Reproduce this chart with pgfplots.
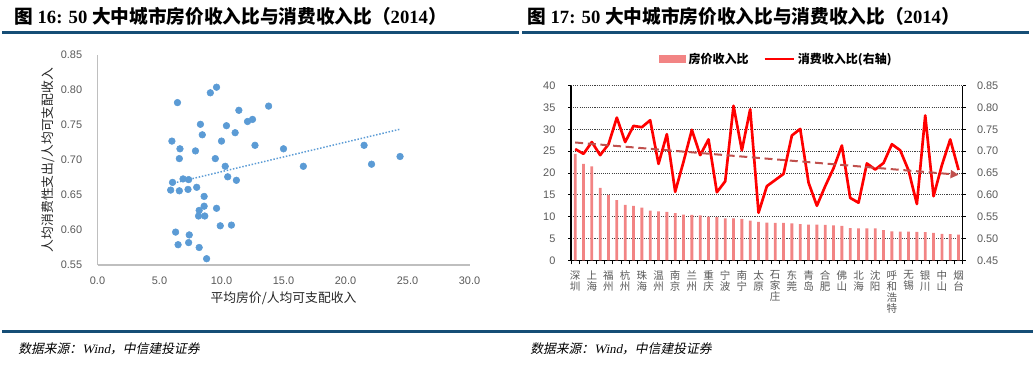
\documentclass[border=0pt]{standalone}
\usepackage{fontspec}
\usepackage{pgfplots}
\pgfplotsset{compat=1.18}
\usepackage{pgfplotstable}
\usetikzlibrary{arrows.meta}
\setmainfont{Liberation Sans}
\newfontfamily\cjk{Noto Sans CJK SC}
\newfontfamily\cjkit[FakeSlant=0.2]{Noto Sans CJK SC}
\newfontfamily\tnr{Liberation Serif}
\newfontfamily\tnrit[FakeSlant=0.2]{Liberation Serif}

\definecolor{sblue}{RGB}{91,155,213}
\definecolor{barpink}{RGB}{242,132,132}
\definecolor{trendred}{RGB}{192,80,77}
\definecolor{rulecol}{RGB}{22,78,118}
\definecolor{ticktxt}{RGB}{89,89,89}

\pgfplotstableread{
k p c
1 24.4 0.705
2 22.1 0.694
3 21.5 0.721
4 16.6 0.691
5 15.0 0.716
6 13.8 0.777
7 12.7 0.721
8 12.5 0.758
9 12.1 0.755
10 11.4 0.771
11 11.2 0.671
12 11.1 0.739
13 10.8 0.607
14 10.5 0.676
15 10.4 0.749
16 10.3 0.691
17 10.0 0.727
18 9.9 0.606
19 9.6 0.631
20 9.6 0.804
21 9.5 0.702
22 9.1 0.796
23 8.8 0.559
24 8.65 0.620
25 8.6 0.634
26 8.6 0.648
27 8.45 0.736
28 8.3 0.751
29 8.2 0.628
30 8.2 0.575
31 8.15 0.620
32 8.0 0.661
33 7.9 0.713
34 7.4 0.593
35 7.35 0.582
36 7.35 0.672
37 7.3 0.658
38 6.9 0.673
39 6.65 0.716
40 6.6 0.702
41 6.6 0.656
42 6.5 0.579
43 6.45 0.782
44 6.3 0.597
45 6.05 0.668
46 6.0 0.727
47 5.9 0.657
}\data

\begin{document}
\begin{tikzpicture}[x=0.75pt,y=0.75pt]
\useasboundingbox (0,0) rectangle (1035,365);

% titles
\node[anchor=west, inner sep=0pt, font=\cjk\bfseries\fontsize{14}{16}\selectfont] at (14,349)
  {图\hspace{0.25em}{\tnr\bfseries 16: 50}\hspace{0.25em}大中城市房价收入比与消费收入比（{\tnr\bfseries 2014}）};
\node[anchor=west, inner sep=0pt, font=\cjk\bfseries\fontsize{14}{16}\selectfont] at (527,349)
  {图\hspace{0.25em}{\tnr\bfseries 17: 50}\hspace{0.25em}大中城市房价收入比与消费收入比（{\tnr\bfseries 2014}）};
\draw[rulecol, line width=2.25pt] (2,332.5) -- (519,332.5);
\draw[rulecol, line width=2.25pt] (522,332.5) -- (1029,332.5);
\draw[rulecol, line width=2.25pt] (2,34) -- (1033,34);

% sources
\node[anchor=west, inner sep=0pt, font=\cjkit\fontsize{9.6}{11}\selectfont] at (18,16) {数据来源：{\tnrit Wind}，中信建投证券};
\node[anchor=west, inner sep=0pt, font=\cjkit\fontsize{9.6}{11}\selectfont] at (530,16) {数据来源：{\tnrit Wind}，中信建投证券};

% ---------- left scatter ----------
\begin{axis}[
  at={(73.125pt,75pt)}, anchor=south west,
  scale only axis, width=279pt, height=157.5pt,
  xmin=0, xmax=30, ymin=0.55, ymax=0.85,
  xtick={0,5,10,15,20,25,30},
  ytick={0.55,0.60,0.65,0.70,0.75,0.80,0.85},
  axis lines*=left,
  axis line style={draw=black!25, line width=0.8pt},
  major tick length=0pt,
  /pgf/number format/assume math mode=true,
  tick label style={font=\fontsize{8.2}{10}\selectfont, text=ticktxt},
  xticklabel style={/pgf/number format/fixed, /pgf/number format/fixed zerofill, /pgf/number format/precision=1, yshift=-5pt},
  yticklabel style={/pgf/number format/fixed, /pgf/number format/fixed zerofill, /pgf/number format/precision=2, xshift=-8pt},
  clip=false,
]
\addplot[only marks, mark=*, mark size=2.5pt, mark options={fill=sblue, draw=sblue}] table[x=p, y=c] {\data};
\addplot[sblue, line width=1.1pt, dash pattern=on 1.1pt off 1.3pt] coordinates {(5.9,0.666) (24.4,0.744)};
\end{axis}
\node[font=\cjk\fontsize{9.6}{11}\selectfont, text=black!85] at (283.5,67) {平均房价/人均可支配收入};
\node[font=\cjk\fontsize{9.6}{11}\selectfont, text=black!85, rotate=90] at (48,205) {人均消费性支出/人均可支配收入};

% ---------- right: bars ----------
\begin{axis}[
  at={(428.25pt,78.5pt)}, anchor=south west,
  scale only axis, width=293.8pt, height=130.95pt,
  xmin=0.5, xmax=47.5, ymin=0, ymax=40,
  ytick={0,5,10,15,20,25,30,35,40},
  axis x line*=bottom, axis y line*=left,
  axis line style={black, line width=0.9pt},
  tick align=outside,
  major tick length=2.2pt, minor tick length=3pt,
  tick style={black, line width=0.6pt},
  xtick={1,3,...,47},
  x tick style={draw=none},
  minor xtick={0.5,1.5,...,47.5},
  minor x tick style={draw=black, line width=0.6pt},
  xticklabels={{深\\圳},{上\\海},{福\\州},{杭\\州},{珠\\海},{温\\州},{南\\京},{兰\\州},{重\\庆},{宁\\波},{南\\宁},{太\\原},{石\\家\\庄},{东\\莞},{青\\岛},{合\\肥},{佛\\山},{北\\海},{沈\\阳},{呼\\和\\浩\\特},{无\\锡},{银\\川},{中\\山},{烟\\台}},
  xticklabel style={align=center, anchor=north, font=\cjk\fontsize{7.9}{8.3}\selectfont, text=ticktxt, yshift=-2pt},
  yticklabel style={font=\fontsize{8.2}{10}\selectfont, text=ticktxt, xshift=-6pt},
  /pgf/number format/assume math mode=true,
  ymajorgrids,
  grid style={black!75, line width=0.6pt, dash pattern=on 0.8pt off 0.8pt},
]
\addplot[ybar, bar width=2.1pt, fill=barpink, draw=none] table[x=k, y=p] {\data};
\end{axis}

% ---------- right: line on right axis ----------
\begin{axis}[
  at={(428.25pt,78.5pt)}, anchor=south west,
  scale only axis, width=293.8pt, height=130.95pt,
  xmin=0.5, xmax=47.5, ymin=0.45, ymax=0.85,
  ytick={0.45,0.50,0.55,0.60,0.65,0.70,0.75,0.80,0.85},
  axis x line=none, axis y line*=right,
  axis line style={black, line width=0.9pt},
  tick align=outside, major tick length=2.2pt,
  tick style={black, line width=0.6pt},
  /pgf/number format/assume math mode=true,
  yticklabel style={font=\fontsize{8.2}{10}\selectfont, text=ticktxt, xshift=5pt,
    /pgf/number format/fixed, /pgf/number format/fixed zerofill, /pgf/number format/precision=2},
  legend style={at={(0.5246,1.153)}, anchor=center, draw=none, fill=none,
    font=\cjk\bfseries\fontsize{9}{11}\selectfont, legend columns=2,
    /tikz/every even column/.append style={column sep=9pt}},
  legend cell align=left,
]
\addlegendimage{legend image code/.code={\fill[barpink] (0pt,-2.8pt) rectangle (20pt,2.8pt);}}
\addlegendentry{房价收入比}
\addplot[red, line width=2pt, line join=round,
  legend image code/.code={\draw[red, line width=2pt] (0pt,0pt) -- (22pt,0pt);}] table[x=k, y=c] {\data};
\addlegendentry{消费收入比(右轴)}
\addplot[trendred, line width=1.5pt, dash pattern=on 6pt off 3.5pt, -{Triangle[length=6pt,width=6pt]}, forget plot]
  coordinates {(1,0.720) (47,0.646)};
\end{axis}
\end{tikzpicture}
\end{document}
